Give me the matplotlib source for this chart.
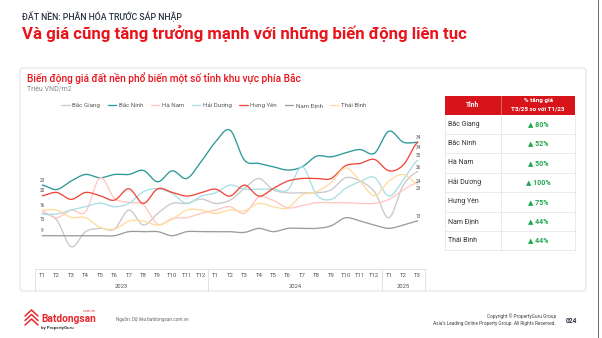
import numpy as np
import matplotlib
matplotlib.use("Agg")
import matplotlib.pyplot as plt
from matplotlib.patches import Rectangle, FancyBboxPatch

W, H = 602, 338
plt.rcParams['font.family'] = ['Roboto', 'DejaVu Sans']

# ---- data (Triệu VND/m2), T1/2023 .. T3/2025 ----
months = ['T%d' % m for m in range(1, 13)] * 2 + ['T1', 'T2', 'T3']
years = ['2023', '2024', '2025']
year_centers = [5.5, 17.5, 25]
year_breaks = [11.5, 23.5]

provinces = ['Bắc Giang', 'Bắc Ninh', 'Hà Nam', 'Hải Dương', 'Hưng Yên', 'Nam Định', 'Thái Bình']

bac_giang = [15.1, 13.3, 6.0, 10.1, 11.0, 10.8, 16.0, 11.9, 15.1, 17.8, 17.8, 19.0, 17.8, 18.7,
             21.9, 24.6, 21.5, 20.7, 20.7, 20.7, 21.5, 24.8, 23.9, 21.0, 13.9, 22.8, 26.5]
bac_ninh = [22.8, 21.6, 23.9, 25.7, 24.8, 25.7, 25.7, 26.8, 23.7, 26.7, 24.6, 29.2, 34.6, 37.8,
            29.6, 28.7, 27.8, 26.9, 27.8, 30.7, 30.5, 31.6, 32.5, 31.5, 37.5, 34.5, 34.5]
ha_nam = [15.7, 13.9, 16.0, 15.5, 24.8, 19.2, 18.1, 17.4, 12.1, 13.7, 13.9, 15.1, 16.0, 16.9,
          15.1, 19.5, 18.6, 16.6, 17.2, 18.0, 18.0, 18.0, 17.8, 17.8, 18.9, 21.5, 23.5]
hai_duong = [14.9, 14.9, 16.0, 16.9, 17.9, 16.9, 17.8, 21.0, 21.8, 20.5, 17.8, 19.8, 20.7, 22.8,
             21.7, 21.7, 21.7, 21.5, 27.8, 20.1, 18.9, 21.9, 23.7, 24.9, 19.8, 24.2, 29.6]
hung_yen = [19.9, 20.8, 18.9, 20.8, 19.9, 18.7, 21.8, 17.8, 21.8, 20.8, 19.8, 20.7, 21.7, 19.8,
            22.8, 19.8, 21.9, 23.9, 24.6, 24.6, 24.6, 28.1, 28.7, 29.8, 26.7, 28.3, 34.5]
nam_dinh = [9.0, 9.0, 9.0, 9.0, 9.0, 9.0, 10.1, 10.1, 10.1, 9.0, 10.1, 10.1, 10.1, 10.1,
            9.9, 11.0, 10.1, 11.0, 11.0, 11.0, 11.7, 13.9, 13.0, 11.9, 11.0, 11.9, 13.0]
thai_binh = [16.0, 16.0, 14.0, 13.9, 11.3, 10.8, 13.0, 13.0, 11.9, 13.5, 16.0, 16.0, 15.1, 16.0,
             15.8, 17.8, 16.9, 16.6, 20.1, 21.0, 23.5, 27.5, 23.9, 19.9, 23.9, 25.7, 23.0]

series = [bac_giang, bac_ninh, ha_nam, hai_duong, hung_yen, nam_dinh, thai_binh]
colors = ['#c9c9c9', '#2a9a98', '#ffc6c2', '#a9dfe3', '#f0473b', '#9c9c9c', '#ffdb9e']

growth = ['80%', '52%', '50%', '100%', '75%', '44%', '44%']

# labels shown at start / end of lines: (series index, y offset in points)
start_labels = [(1, 3.5), (4, 3.5), (6, 3.5), (0, -4.5), (5, 3.5)]
end_labels = [(1, 3.5), (4, -4), (3, 3.5), (0, 3), (2, 0.5), (6, -3), (5, 3.5)]


def smooth(y, k=12):
    # catmull-rom curve through the points, for drawing only
    y = np.asarray(y, float)
    p = np.concatenate([[y[0]], y, [y[-1]]])
    xs, ys = [], []
    t = np.linspace(0, 1, k, endpoint=False)
    for i in range(len(y) - 1):
        p0, p1, p2, p3 = p[i], p[i + 1], p[i + 2], p[i + 3]
        seg = 0.5 * (2 * p1 + (-p0 + p2) * t + (2 * p0 - 5 * p1 + 4 * p2 - p3) * t ** 2
                     + (-p0 + 3 * p1 - 3 * p2 + p3) * t ** 3)
        xs.append(i + t)
        ys.append(seg)
    xs.append([len(y) - 1])
    ys.append([y[-1]])
    return np.concatenate(xs), np.concatenate(ys)


fig = plt.figure(figsize=(W / 100, H / 100), dpi=100)
bg = fig.add_axes([0, 0, 1, 1], zorder=0)
bg.set_xlim(0, W)
bg.set_ylim(H, 0)
bg.axis('off')


def fit(t, target):
    r = fig.canvas.get_renderer()
    w = t.get_window_extent(r).width
    t.set_fontsize(t.get_fontsize() * target / w)


# page frame line on the right
bg.plot([598, 598], [0, H], color='#555555', lw=0.6)

# header texts
t = bg.text(22, 16, 'ĐẤT NỀN: PHÂN HÓA TRƯỚC SÁP NHẬP', fontsize=6, color='#2b3445',
            va='center', ha='left', fontweight='medium')
fit(t, 161)
t = bg.text(22, 34, 'Và giá cũng tăng trưởng mạnh với những biến động liên tục', fontsize=12,
            color='#e8141b', va='center', ha='left', fontweight='bold')
fit(t, 444)

# card
bg.add_patch(FancyBboxPatch((20, 68), 566, 223, boxstyle='round,pad=0,rounding_size=3',
                            facecolor='white', edgecolor='#e4e4e4', lw=0.8))
t = bg.text(27, 79, 'Biến động giá đất nền phổ biến một số tỉnh khu vực phía Bắc', fontsize=8,
            color='#e8141b', va='center', ha='left', fontweight='medium')
fit(t, 271)
bg.text(27, 89, 'Triệu VND/m2', fontsize=5, color='#888888', va='center', ha='left')

# chart
ax = fig.add_axes([35 / W, 1 - 268.7 / H, 390 / W, 154 / H], zorder=1)
ax.set_facecolor('none')
x = np.arange(len(months))
handles = []
for name, vals, c in zip(provinces, series, colors):
    xs, ys = smooth(vals)
    ln, = ax.plot(xs, ys, color=c, lw=0.95, label=name, solid_capstyle='round')
    handles.append(ln)

for i, dy in start_labels:
    ax.annotate(str(int(round(series[i][0]))), (0, series[i][0]), xytext=(0, dy),
                textcoords='offset points', ha='center', va='center', fontsize=3.4, color='#555555')
for i, dy in end_labels:
    ax.annotate(str(int(round(series[i][-1]))), (x[-1], series[i][-1]), xytext=(0.5, dy),
                textcoords='offset points', ha='center', va='center', fontsize=3.4, color='#555555')

ax.set_xlim(-0.5, len(months) - 0.5)
ax.set_ylim(0, 42)
ax.set_yticks([])
ax.set_xticks(x)
ax.set_xticklabels(months, fontsize=4.3, color='#555555')
ax.tick_params(axis='x', length=0, pad=3)
for s in ['top', 'right', 'left']:
    ax.spines[s].set_visible(False)
ax.spines['bottom'].set_color('#e2e2e2')
ax.spines['bottom'].set_linewidth(0.7)

tr = ax.get_xaxis_transform()
for xb in [-0.5] + year_breaks + [len(months) - 0.5]:
    ax.plot([xb, xb], [0, -0.145], transform=tr, clip_on=False, color='#e2e2e2', lw=0.7)
for yl, xc in zip(years, year_centers):
    ax.text(xc, -0.115, yl, transform=tr, ha='center', va='center', fontsize=4.2, color='#555555')

leg = fig.legend(handles=handles, loc='center left', bbox_to_anchor=(61 / W, 1 - 105 / H),
                 ncol=7, frameon=False, fontsize=4.4, handlelength=1.4, handletextpad=0.4,
                 columnspacing=1.25, borderpad=0, borderaxespad=0)
for tx in leg.get_texts():
    tx.set_color('#555555')

# table
tx0, tx1, tmid = 445, 575, 501
bg.add_patch(Rectangle((tx0, 95.5), tx1 - tx0, 19, facecolor='#d7141a', edgecolor='none'))
bg.text((tx0 + tmid) / 2, 105, 'Tỉnh', color='white', fontsize=4.8, fontweight='bold',
        ha='center', va='center')
bg.text((tmid + tx1) / 2, 100.8, '% tăng giá', color='white', fontsize=4.5, fontweight='bold',
        ha='center', va='center')
bg.text((tmid + tx1) / 2, 108.6, 'T3/25 so với T1/23', color='white', fontsize=4.5,
        fontweight='bold', ha='center', va='center')
bg.plot([tmid, tmid], [95.5, 114.5], color='#ffffff', lw=0.4, alpha=0.6)
row_h = 19.4
top = 114.5
for k, (name, g) in enumerate(zip(provinces, growth)):
    y0 = top + k * row_h
    yc = y0 + row_h / 2
    bg.plot([tx0, tx1], [y0 + row_h, y0 + row_h], color='#e6e6e6', lw=0.6)
    bg.text(tx0 + 2.5, yc, name, fontsize=5, color='#333333', ha='left', va='center')
    bg.text((tmid + tx1) / 2, yc, '▲ ' + g, fontsize=5, color='#1ea64b', ha='center',
            va='center', fontweight='bold')
bot = top + len(provinces) * row_h
bg.plot([tx0, tx0], [top, bot], color='#e6e6e6', lw=0.6)
bg.plot([tx1, tx1], [top, bot], color='#e6e6e6', lw=0.6)
bg.plot([tmid, tmid], [top, bot], color='#e6e6e6', lw=0.6)

# footer
for k in range(3):
    bg.plot([25, 31.5, 38], [316 + 4.5 * k, 310 + 4.5 * k, 316 + 4.5 * k], color='#e8262b',
            lw=1.1, solid_joinstyle='round', solid_capstyle='round')
t = bg.text(41, 319, 'Batdongsan', fontsize=7, color='#e8262b', fontweight='bold',
            ha='left', va='center')
fit(t, 55)
bg.text(96, 311, '.com.vn', fontsize=2.6, color='#e8262b', ha='right', va='center')
bg.text(41, 327.5, 'by PropertyGuru', fontsize=3.2, color='#333333', ha='left', va='center',
        fontweight='bold')
bg.text(116, 319.5, 'Nguồn: Dữ liệu batdongsan.com.vn', fontsize=3.3, color='#666666',
        ha='left', va='center')
bg.text(556, 316, 'Copyright © PropertyGuru Group', fontsize=3.4, color='#444444',
        ha='right', va='center')
bg.text(556, 323, "Asia's Leading Online Property Group. All Rights Reserved.", fontsize=3.4,
        color='#444444', ha='right', va='center')
bg.text(566, 321, '024', fontsize=4.8, color='#2b3445', ha='left', va='center', fontweight='bold')

fig.savefig('out.png', dpi=100)
